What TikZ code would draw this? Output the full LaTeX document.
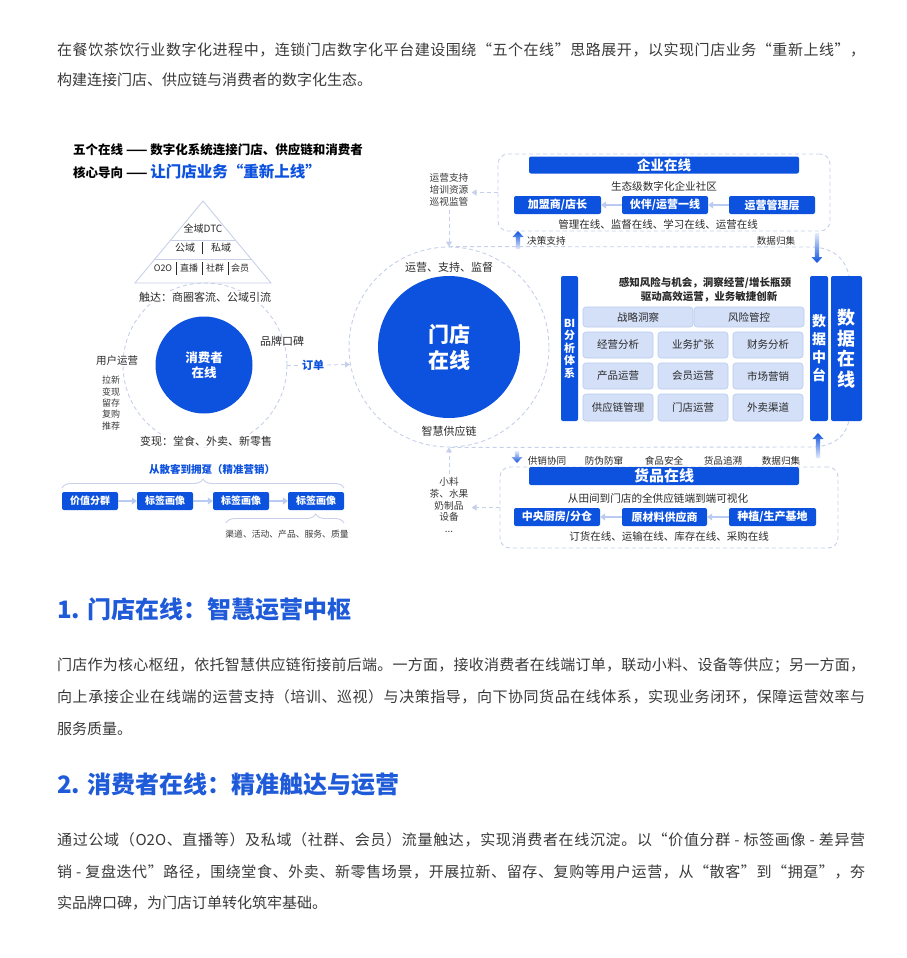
\documentclass[tikz,border=0pt]{standalone}
\usepackage{fontspec}
\setmainfont{Noto Sans CJK SC}
\usetikzlibrary{arrows.meta,decorations.pathreplacing}
\newcount\cjkc
\cjkc="4E00 \loop \XeTeXcharclass\cjkc=5 \advance\cjkc by 1 \ifnum\cjkc<"A000 \repeat
\cjkc="3000 \loop \XeTeXcharclass\cjkc=5 \advance\cjkc by 1 \ifnum\cjkc<"3040 \repeat
\cjkc="FF00 \loop \XeTeXcharclass\cjkc=5 \advance\cjkc by 1 \ifnum\cjkc<"FF60 \repeat
\XeTeXcharclass"201C=5 \XeTeXcharclass"201D=5
\XeTeXinterchartokenstate=1
\XeTeXinterchartoks 5 5 {\hskip 0pt plus 1pt\relax}
\XeTeXinterchartoks 5 0 {\hskip 0pt plus 1pt\relax}
\XeTeXinterchartoks 0 5 {\hskip 0pt plus 1pt\relax}
\definecolor{mblue}{HTML}{0D52DE}
\definecolor{hblue}{HTML}{1F5BD9}
\definecolor{lfill}{HTML}{D4E0F8}
\definecolor{lborder}{HTML}{B8CAF0}
\definecolor{dashc}{HTML}{C6D0EA}
\definecolor{arrc}{HTML}{B9CBF2}
\definecolor{txt}{HTML}{2A2A2A}
\definecolor{gtxt}{HTML}{3A3A3A}
\definecolor{lblue}{HTML}{E4EBFB}
\definecolor{tric}{HTML}{C9D1E8}
\newcommand\fz[1]{\fontsize{#1pt}{#1pt}\selectfont}
\newcommand\dsh{\kern4pt-\kern4pt}
\newcommand\gup[3]{\shade[top color=mblue, bottom color=lblue] ({#1-2.2},#2) -- ({#1-2.2},{#3+6}) -- ({#1-5.5},{#3+6}) -- (#1,#3) -- ({#1+5.5},{#3+6}) -- ({#1+2.2},{#3+6}) -- ({#1+2.2},#2) -- cycle;}
\newcommand\gdn[3]{\shade[top color=lblue, bottom color=mblue] ({#1-2.2},#2) -- ({#1-2.2},{#3-6}) -- ({#1-5.5},{#3-6}) -- (#1,#3) -- ({#1+5.5},{#3-6}) -- ({#1+2.2},{#3-6}) -- ({#1+2.2},#2) -- cycle;}
\tikzset{
  para/.style={anchor=west, inner sep=0pt, text=gtxt, font=\fz{15}},
  headl/.style={anchor=west, inner sep=0pt, text=hblue, font=\bfseries\fz{24}},
  lab/.style={inner sep=0pt, text=txt, align=center},
  bbar/.style={fill=mblue, rounded corners=2pt, text=white, inner sep=0pt},
  lbox/.style={fill=lfill, draw=lborder, line width=0.6pt, rounded corners=3pt, inner sep=0pt, text=txt},
  dline/.style={draw=dashc, line width=0.9pt, dash pattern=on 4pt off 3pt},
  larr/.style={draw=arrc, line width=1.4pt, -{Triangle[length=5pt,width=7pt]}},
  darr/.style={dline, -{Triangle[length=5pt,width=6pt,fill=dashc]}},
  vbar/.style={draw=txt, line width=0.7pt},
  tri/.style={draw=tric, line width=0.9pt},
  brc/.style={draw=tric, line width=0.9pt, decorate},
}
\begin{document}
\begin{tikzpicture}[x=1pt,y=-1pt]
\useasboundingbox (0,0) rectangle (906,958);
\fill[white] (0,0) rectangle (906,958);

% ---------- text ----------
\node[para] (t1) at (57,50) {\hbox to 808pt{在餐饮茶饮行业数字化进程中，连锁门店数字化平台建设围绕“五个在线”思路展开，以实现门店业务“重新上线”，}};
\node[para] (t2) at (57,80) {构建连接门店、供应链与消费者的数字化生态。};

\node[headl] (hd1) at (57,609) {1. 门店在线：智慧运营中枢};
\node[para] (a1) at (57,665) {\hbox to 808pt{门店作为核心枢纽，依托智慧供应链衔接前后端。一方面，接收消费者在线端订单，联动小料、设备等供应；另一方面，}};
\node[para] (a2) at (57,697) {\hbox to 808pt{向上承接企业在线端的运营支持（培训、巡视）与决策指导，向下协同货品在线体系，实现业务闭环，保障运营效率与}};
\node[para] (a3) at (57,729) {服务质量。};

\node[headl] (hd2) at (57,784) {2. 消费者在线：精准触达与运营};
\node[para] (b1) at (57,840) {\hbox to 808pt{通过公域（O2O、直播等）及私域（社群、会员）流量触达，实现消费者在线沉淀。以“价值分群\dsh 标签画像\dsh 差异营}};
\node[para] (b2) at (57,872) {\hbox to 808pt{销\dsh 复盘迭代”路径，围绕堂食、外卖、新零售场景，开展拉新、留存、复购等用户运营，从“散客”到“拥趸”，夯}};
\node[para] (b3) at (57,903) {实品牌口碑，为门店订单转化筑牢基础。};

% ---------- left titles ----------
\node[anchor=west, inner sep=0pt, font=\bfseries\fz{12.5}, text=black] (h1) at (73,150) {五个在线 —— 数字化系统连接门店、供应链和消费者};
\node[anchor=west, inner sep=0pt, font=\bfseries\fz{12.5}, text=black] (h2) at (73,172) {核心导向 —— {\color{mblue}\fz{15.5}让门店业务“重新上线”}};

% ---------- triangle ----------
\draw[tri] (203,201) -- (271,283) -- (135,283) -- cycle;
\draw[tri] (170.7,240) -- (235.3,240);
\draw[tri] (154.9,259) -- (251.1,259);
\node[lab, font=\fz{10}] (dtc) at (203,229) {全域DTC};
\node[lab, font=\fz{10}] (gy) at (185,248) {公域};
\node[lab, font=\fz{10}] (sy) at (221,248) {私域};
\draw[vbar] (202,242) -- (202,254);
\node[lab, font=\fz{9}] (o2o) at (163,268) {O2O};
\node[lab, font=\fz{9}] (zb) at (189,268) {直播};
\node[lab, font=\fz{9}] (sq) at (215,268) {社群};
\node[lab, font=\fz{9}] (hy) at (240,268) {会员};
\draw[vbar] (176,262) -- (176,275);
\draw[vbar] (202,262) -- (202,275);
\draw[vbar] (228,262) -- (228,275);

% ---------- consumer ----------
\node[circle, dline, minimum size=164pt, inner sep=0pt] (consout) at (205,365) {};
\node[circle, fill=mblue, minimum size=97pt, inner sep=0pt, text=white, align=center, font=\bfseries\fontsize{12.5pt}{14.5pt}\selectfont] (cons) at (204,365) {消费者\\在线};
\node[lab, font=\fz{11}, fill=white, inner sep=1pt] (touch) at (205,297) {触达：商圈客流、公域引流};
\node[lab, font=\fz{11}, fill=white, inner sep=1pt] (cash) at (206,441) {变现：堂食、外卖、新零售};
\node[lab, font=\fz{11}] (brand) at (282,341) {品牌口碑};
\node[lab, font=\fz{10.5}] (uop) at (117,361) {用户运营};
\node[lab, font=\fontsize{9pt}{11.3pt}\selectfont, text=gtxt] (ulist) at (111,403) {拉新\\变现\\留存\\复购\\推荐};

% ---------- store ----------
\node[circle, dline, minimum size=200pt, inner sep=0pt] (storeout) at (449,347) {};
\node[circle, fill=mblue, minimum size=142pt, inner sep=0pt, text=white, align=center, font=\bfseries\fontsize{21pt}{26pt}\selectfont] (store) at (449,347) {门店\\在线};
\node[lab, font=\fz{11}] (ops) at (449,267) {运营、支持、监督};
\node[lab, font=\fz{11}] (sc) at (449,431) {智慧供应链};

\node[lab, font=\bfseries\fz{11}, text=mblue] (ord) at (313,365) {订单};
\draw[dline] (consout.east) -- ([xshift=-3pt]ord.west);
\draw[darr] ([xshift=3pt]ord.east) -- (storeout.190);

\node[lab, font=\fontsize{9.7pt}{12pt}\selectfont, text=gtxt] (sup) at (449,190) {运营支持\\培训资源\\巡视监管};
\draw[darr] ([yshift=-3pt]sup.south) -- (storeout.north);

\node[lab, font=\fontsize{9.7pt}{11.7pt}\selectfont, text=gtxt] (mat) at (449,505) {小料\\茶、水果\\奶制品\\设备\\...};
\draw[darr] ([yshift=3pt]mat.north) -- (storeout.south);

% ---------- right stadium ----------
\draw[dline] (storeout.north) -- (810,247) .. controls (836,247) and (850,262) .. (850,287) -- (850,410) .. controls (850,434) and (836,447) .. (810,447) -- (storeout.south);

% ---------- enterprise ----------
\node[dline, rounded corners=10pt, minimum width=332pt, minimum height=77pt, inner sep=0pt, fill=white] (ent) at (664,192.5) {};
\node[bbar, minimum width=270pt, minimum height=17pt, font=\bfseries\fz{13.5}] (entbar) at (664,165) {企业在线};
\node[lab, font=\fz{10.6}] (eco) at (664,186) {生态级数字化企业社区};
\node[bbar, minimum width=87pt, minimum height=18pt, font=\bfseries\fz{11}] (e1) at (557.5,205) {加盟商/店长};
\node[bbar, minimum width=86pt, minimum height=18pt, font=\bfseries\fz{11}] (e2) at (665,205) {伙伴/运营一线};
\node[bbar, minimum width=86pt, minimum height=18pt, font=\bfseries\fz{11}] (e3) at (772,205) {运营管理层};
\draw[larr] (e3.west) -- (e2.east);
\draw[larr] (e2.west) -- (e1.east);
\node[lab, font=\fz{10.5}] (mgmt) at (658,224) {管理在线、监督在线、学习在线、运营在线};
\draw[darr] (ent.west) -- ([xshift=3pt]ent.west -| sup.east);

\node[lab, anchor=west, font=\fz{9.6}] (dec) at (527,241) {决策支持};
\node[lab, font=\fz{9.6}] (dcol1) at (776,241) {数据归集};
\gup{518}{249}{231}
\gdn{817}{233}{263}

% ---------- BI panel ----------
\node[bbar, minimum width=17pt, minimum height=145pt, align=center, font=\bfseries\fontsize{11pt}{12.5pt}\selectfont] (bi) at (569.5,348.5) {BI\\分\\析\\体\\系};
\node[lab, font=\bfseries\fz{10.5}] (bih1) at (705,283) {感知风险与机会，洞察经营/增长瓶颈};
\node[lab, font=\bfseries\fz{10.5}] (bih2) at (709,297) {驱动高效运营，业务敏捷创新};
\node[lbox, minimum width=110pt, minimum height=20pt, font=\fz{10.5}] (r1a) at (638,317) {战略洞察};
\node[lbox, minimum width=110pt, minimum height=20pt, font=\fz{10.5}] (r1b) at (749,317) {风险管控};
\node[lbox, minimum width=70pt, minimum height=26pt, font=\fz{10.5}] (r2a) at (618,345) {经营分析};
\node[lbox, minimum width=70pt, minimum height=26pt, font=\fz{10.5}] (r2b) at (693,345) {业务扩张};
\node[lbox, minimum width=70pt, minimum height=26pt, font=\fz{10.5}] (r2c) at (768,345) {财务分析};
\node[lbox, minimum width=70pt, minimum height=26pt, font=\fz{10.5}] (r3a) at (618,376) {产品运营};
\node[lbox, minimum width=70pt, minimum height=26pt, font=\fz{10.5}] (r3b) at (693,376) {会员运营};
\node[lbox, minimum width=70pt, minimum height=26pt, font=\fz{10.5}] (r3c) at (768,376) {市场营销};
\node[lbox, minimum width=70pt, minimum height=27pt, font=\fz{10.5}] (r4a) at (618,407.5) {供应链管理};
\node[lbox, minimum width=70pt, minimum height=27pt, font=\fz{10.5}] (r4b) at (693,407.5) {门店运营};
\node[lbox, minimum width=70pt, minimum height=27pt, font=\fz{10.5}] (r4c) at (768,407.5) {外卖渠道};
\node[bbar, minimum width=18pt, minimum height=145pt, align=center, font=\bfseries\fontsize{14pt}{18pt}\selectfont] (dmid) at (819,348.5) {数\\据\\中\\台};
\node[bbar, minimum width=31pt, minimum height=145pt, align=center, font=\bfseries\fontsize{18pt}{20.5pt}\selectfont] (don) at (846.5,348.5) {数\\据\\在\\线};

% ---------- goods ----------
\gdn{517}{451}{463}
\gup{818}{458}{433}
\node[lab, font=\fz{9.6}] (l1) at (547,461) {供销协同};
\node[lab, font=\fz{9.6}] (l2) at (604,461) {防伪防窜};
\node[lab, font=\fz{9.6}] (l3) at (664,461) {食品安全};
\node[lab, font=\fz{9.6}] (l4) at (723,461) {货品追溯};
\node[lab, font=\fz{9.6}] (l5) at (781,461) {数据归集};
\node[dline, rounded corners=10pt, minimum width=338pt, minimum height=81pt, inner sep=0pt] (gds) at (669,507.5) {};
\node[bbar, minimum width=270pt, minimum height=18pt, font=\bfseries\fz{15}] (gbar) at (664,476) {货品在线};
\node[lab, font=\fz{10.6}] (vis) at (658,498) {从田间到门店的全供应链端到端可视化};
\node[bbar, minimum width=86pt, minimum height=18pt, font=\bfseries\fz{11}] (g1) at (557,517) {中央厨房/分仓};
\node[bbar, minimum width=85pt, minimum height=18pt, font=\bfseries\fz{11}] (g2) at (664.5,517) {原材料供应商};
\node[bbar, minimum width=87pt, minimum height=18pt, font=\bfseries\fz{11}] (g3) at (772.5,517) {种植/生产基地};
\draw[larr] (g3.west) -- (g2.east);
\draw[larr] (g2.west) -- (g1.east);
\node[lab, font=\fz{10.5}] (ordl) at (669,537) {订货在线、运输在线、库存在线、采购在线};
\draw[darr] (gds.west) -- ([xshift=3pt]gds.west -| mat.east);

% ---------- left bottom ----------
\node[lab, font=\bfseries\fz{10.5}, text=mblue] (prec) at (212,469) {从散客到拥趸（精准营销）};
\draw[brc, decoration={brace, amplitude=9pt}] (62,488) -- (344,488);
\node[bbar, minimum width=56pt, minimum height=18pt, font=\bfseries\fz{10}] (v1) at (90,501) {价值分群};
\node[bbar, minimum width=56pt, minimum height=18pt, font=\bfseries\fz{10}] (v2) at (165,501) {标签画像};
\node[bbar, minimum width=56pt, minimum height=18pt, font=\bfseries\fz{10}] (v3) at (241,501) {标签画像};
\node[bbar, minimum width=56pt, minimum height=18pt, font=\bfseries\fz{10}] (v4) at (316,501) {标签画像};
\draw[larr] (v1.east) -- (v2.west);
\draw[larr] (v2.east) -- (v3.west);
\draw[larr] (v3.east) -- (v4.west);
\draw[brc, decoration={brace, amplitude=9pt, aspect=0.76}] (226,523) -- (344,523);
\node[lab, font=\fz{8.8}, text=gtxt] (chan) at (287,534) {渠道、活动、产品、服务、质量};
\end{tikzpicture}
\end{document}
